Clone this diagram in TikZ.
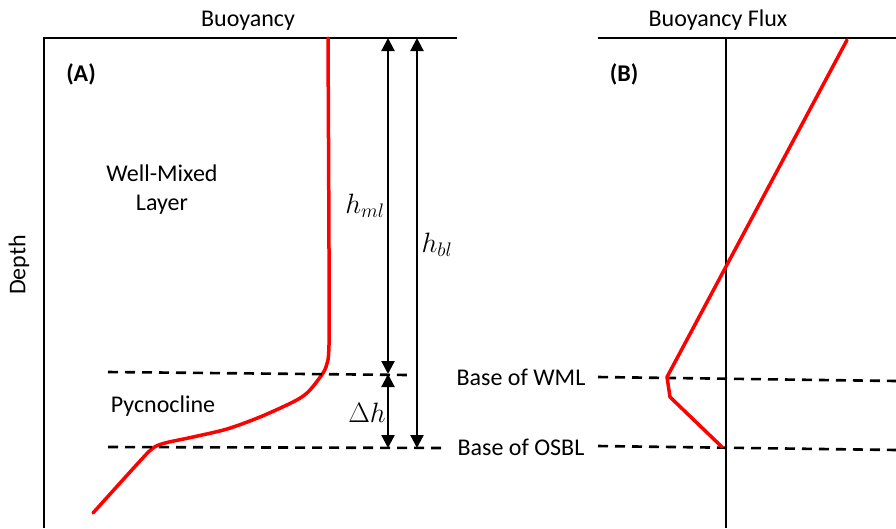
\RequirePackage{fix-cm}
\documentclass[tikz,border=0pt]{standalone}
\usepackage{fontspec}
\setmainfont{Carlito}
\usetikzlibrary{arrows.meta}

\tikzset{
  axisline/.style={line width=2.5pt},
  profile/.style={red, line width=3.5pt, line join=round, line cap=round},
  levelline/.style={line width=2.6pt, dash pattern=on 10pt off 7pt},
  dimarrow/.style={line width=2.2pt, {Triangle[width=13pt,length=13pt]}-{Triangle[width=13pt,length=13pt]}},
  lbl/.style={font=\fontsize{24}{29}\selectfont, inner sep=0pt},
  mathlbl/.style={font=\fontsize{28}{32}\selectfont, inner sep=0pt}
}

\begin{document}
\begin{tikzpicture}[x=1pt,y=-1pt]
    \useasboundingbox (0,0) rectangle (896,528);

    % panel (A)
    \draw[axisline] (457,38) -- (44,38) -- (44,528);
    \node[lbl,anchor=base] (buoy) at (248,26) {Buoyancy};
    \node[lbl,font=\fontsize{24}{29}\selectfont\bfseries] (panelA) at (81,74) {(A)};
    \node[lbl,rotate=90] (depth) at (19,265) {Depth};
    \node[lbl,align=center] (wml) at (162,190) {Well-Mixed\\Layer};
    \node[lbl,anchor=base] (pycno) at (163,412) {Pycnocline};

    \draw[profile] plot[smooth, tension=0.5] coordinates {(328,38) (329,250) (329,345) (326,367) (318,380) (307,393) (293,402) (260,417) (227,429) (193,437) (165,443) (153,448) (140,461) (93,513)};

    % level lines
    \node[lbl,anchor=base] (baseWML) at (521,385) {Base of WML};
    \node[lbl,anchor=base] (baseOSBL) at (521,455) {Base of OSBL};
    \draw[levelline] (108,372) -- (408,375);
    \draw[levelline] (108,447) -- (446,448);
    \draw[levelline] (598,377) -- (896,381);
    \draw[levelline] (598,446) -- (896,450);

    \coordinate (hmlTop) at (388,38);
    \coordinate (hmlBot) at (388,374);
    \coordinate (dhBot) at (388,448);
    \coordinate (hblTop) at (417,38);
    \coordinate (hblBot) at (417,448);
    \draw[dimarrow] (hmlTop) -- (hmlBot);
    \draw[dimarrow] (hmlBot) -- (dhBot);
    \draw[dimarrow] (hblTop) -- (hblBot);
    \node[mathlbl] (hml) at (365,206) {$h_{ml}$};
    \node[mathlbl] (hbl) at (437,245) {$h_{bl}$};
    \node[mathlbl] (dh) at (367,413) {$\Delta h$};

    % panel (B)
    \draw[axisline] (598,38) -- (896,38);
    \draw[axisline] (726,38) -- (726,528);
    \node[lbl,anchor=base] (flux) at (718,26) {Buoyancy Flux};
    \node[lbl,font=\fontsize{24}{29}\selectfont\bfseries] (panelB) at (624,74) {(B)};
    \draw[profile] (847,40) -- (667,377) -- (670,397) -- (722,447);
\end{tikzpicture}
\end{document}
